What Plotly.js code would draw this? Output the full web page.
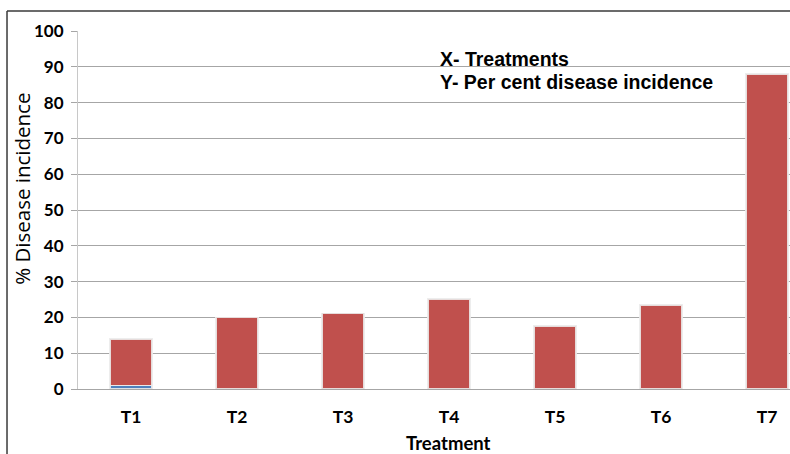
<!DOCTYPE html>
<html>
<head>
<meta charset="utf-8">
<script src="https://cdn.plot.ly/plotly-3.0.1.min.js"></script>
<style>
html,body{margin:0;padding:0;background:#fff;}
#chart{width:790px;height:454px;}
</style>
</head>
<body>
<div id="chart"></div>
<script>
var categories = ["T1", "T2", "T3", "T4", "T5", "T6", "T7"];
var blueValues = [1, 0, 0, 0, 0, 0, 0];
var redValues = [13, 20, 21.1, 25.1, 17.6, 23.5, 88];
var yTickValues = [0, 10, 20, 30, 40, 50, 60, 70, 80, 90, 100];
var noteLines = ["X- Treatments", "Y- Per cent disease incidence"];
var xTitle = "Treatment";
var yTitle = "% Disease incidence";

var idx = categories.map(function(c, i){ return i; });

var barLine = {color: "rgba(235,235,235,0.9)", width: 1.5};

var traces = [
  {type: "bar", x: idx, y: blueValues, width: 0.4,
   marker: {color: "#4F81BD", line: barLine}, hoverinfo: "skip"},
  {type: "bar", x: idx, y: redValues, width: 0.4,
   marker: {color: "#C0504D", line: barLine}, hoverinfo: "skip"}
];

var noteFont = {family: "'Liberation Sans', Arial, sans-serif", size: 19.5, color: "#000"};

var layout = {
  width: 790, height: 454,
  margin: {l: 78, r: 0, t: 31, b: 65},
  paper_bgcolor: "#ffffff", plot_bgcolor: "#ffffff",
  barmode: "stack",
  showlegend: false,
  font: {family: "Lato, 'DejaVu Sans', sans-serif", color: "#000"},
  xaxis: {
    range: [-0.5, 6.217],
    tickmode: "array", tickvals: idx, ticktext: categories,
    tickfont: {family: "Lato", size: 17.5, color: "#000", weight: "bold"},
    ticks: "", showgrid: false, zeroline: false,
    showline: true, linecolor: "#A6A6A6", linewidth: 1,
    ticklabelstandoff: 12
  },
  yaxis: {
    range: [0, 100],
    tickmode: "array", tickvals: yTickValues,
    tickfont: {family: "Lato", size: 17, color: "#000", weight: "bold"},
    ticks: "outside", ticklen: 6, tickcolor: "#A6A6A6",
    showgrid: true, gridcolor: "#A6A6A6", gridwidth: 1,
    zeroline: false,
    showline: true, linecolor: "#C8C8C8", linewidth: 1,
    ticklabelstandoff: 4
  },
  annotations: [
    {xref: "paper", yref: "paper", x: 0.505, y: 0.922, xanchor: "left", yanchor: "middle",
     text: "<b>" + noteLines[0] + "</b>", showarrow: false, font: noteFont},
    {xref: "paper", yref: "paper", x: 0.505, y: 0.858, xanchor: "left", yanchor: "middle",
     text: "<b>" + noteLines[1] + "</b>", showarrow: false, font: noteFont},
    {xref: "paper", yref: "paper", x: 0.52, y: -0.152, xanchor: "center", yanchor: "middle",
     text: "<b>" + xTitle + "</b>", showarrow: false,
     font: {family: "Lato", size: 18.5, color: "#000"}},
    {xref: "paper", yref: "paper", x: -0.0787, y: 0.559, xanchor: "center", yanchor: "middle",
     text: yTitle, textangle: -90, showarrow: false,
     font: {family: "'Open Sans'", size: 20.5, color: "#000"}}
  ],
  shapes: [
    {type: "line", xref: "paper", yref: "paper", x0: -0.0997, x1: -0.0997, y0: 1.056, y1: -0.2, line: {color: "#3a3a3a", width: 1.5}},
    {type: "line", xref: "paper", yref: "paper", x0: -0.0997, x1: 1.0, y0: 1.056, y1: 1.056, line: {color: "#3a3a3a", width: 1.5}}
  ]
};

Plotly.newPlot("chart", traces, layout, {staticPlot: true, displayModeBar: false});
</script>
</body>
</html>
